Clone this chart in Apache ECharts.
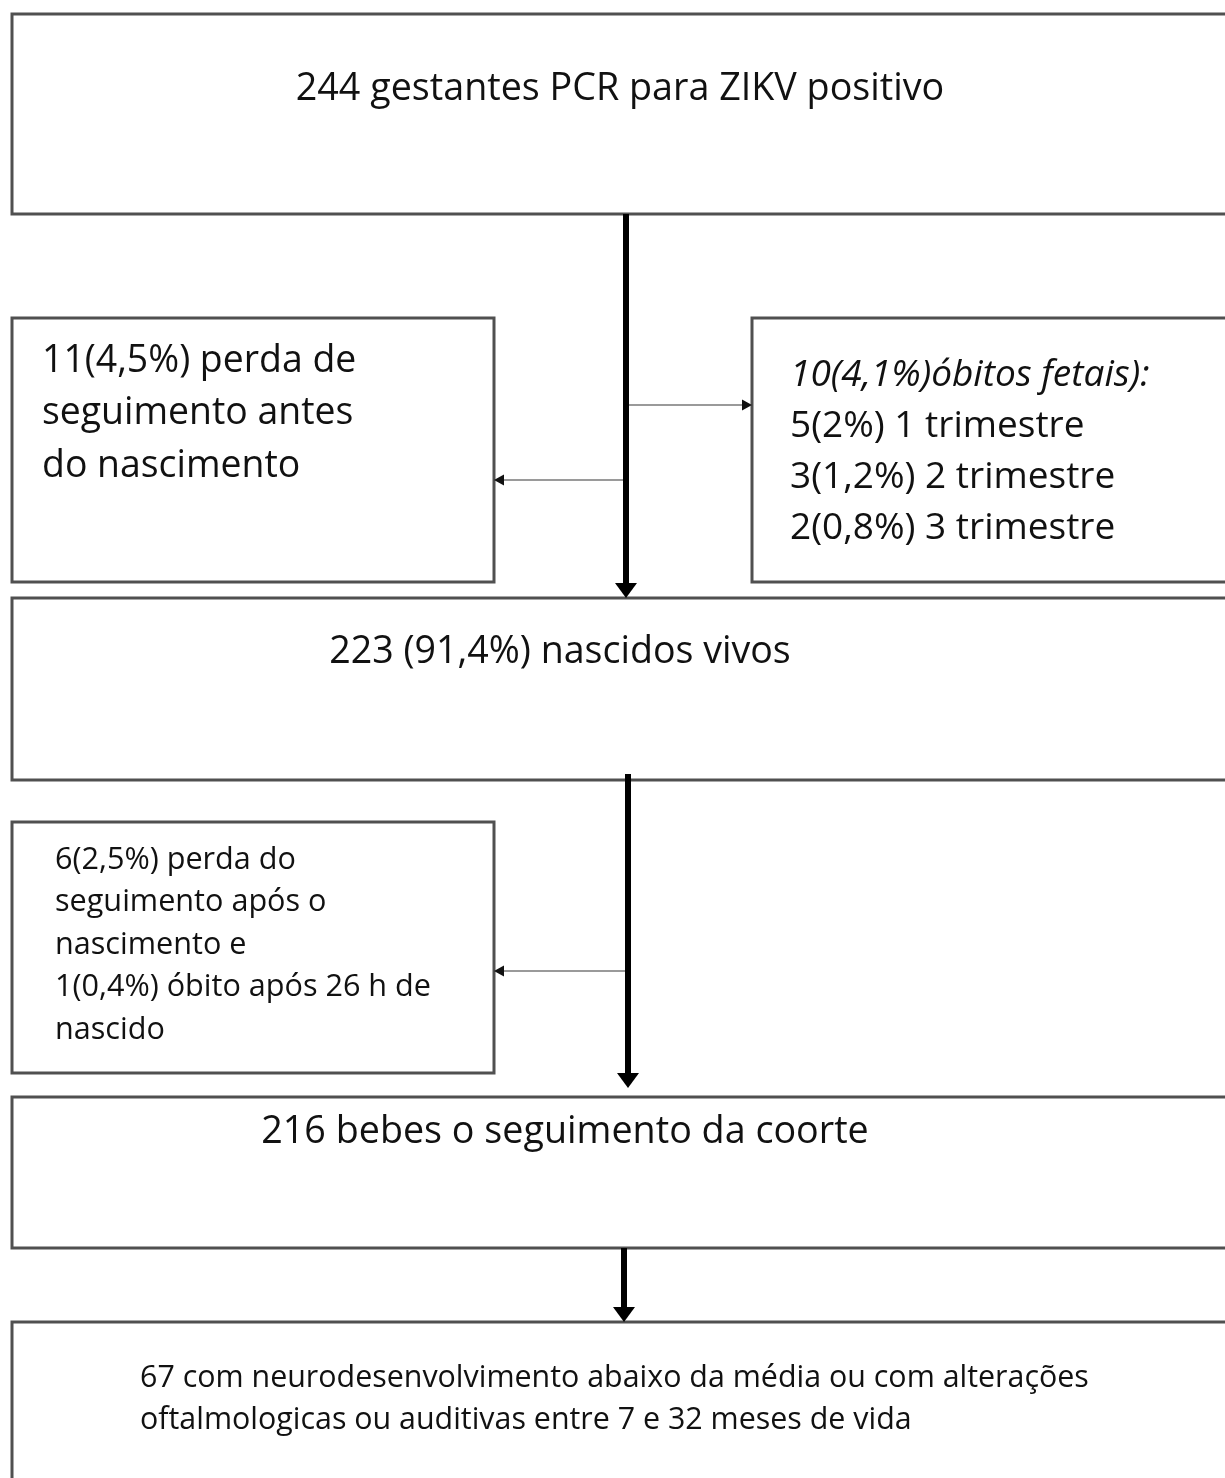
<!DOCTYPE html>
<html><head><meta charset="utf-8">
<script src="https://cdn.jsdelivr.net/npm/echarts@6/dist/echarts.min.js"></script>
<style>html,body{margin:0;padding:0;background:#fff}#c{width:1225px;height:1478px}</style>
</head><body><div id="c"></div>
<script>
// ---- content (texts / counts) ----
const stageCounts = [244, 11, 10, 223, 7, 216, 67];
const boxTexts = [
  ['244 gestantes PCR para ZIKV positivo'],
  ['11(4,5%) perda de', 'seguimento antes', 'do nascimento'],
  ['10(4,1%)óbitos fetais):', '5(2%) 1 trimestre', '3(1,2%) 2 trimestre', '2(0,8%) 3 trimestre'],
  ['223 (91,4%) nascidos vivos'],
  ['6(2,5%) perda do', 'seguimento após o', 'nascimento e', '1(0,4%) óbito após 26 h de', 'nascido'],
  ['216 bebes o seguimento da coorte'],
  ['67 com neurodesenvolvimento abaixo da média ou com alterações', 'oftalmologicas ou auditivas entre 7 e 32 meses de vida']
];
const italicFirstLine = [false, false, true, false, false, false, false];

// ---- layout (axis units; x 0..1225, y 0..1478 top-down) ----
const boxRects = [
  [12, 14, 1240, 214],
  [12, 318, 494, 582],
  [752, 318, 1240, 582],
  [12, 598, 1240, 780],
  [12, 822, 494, 1073],
  [12, 1097, 1240, 1248],
  [12, 1322, 1240, 1500]
];
const textAnchors = [
  {x: 620, y: 89, align: 'center', size: 37.7, lh: 52},
  {x: 42, y: 361, align: 'left', size: 37.4, lh: 52.5},
  {x: 790, y: 375, align: 'left', size: 37, lh: 51},
  {x: 560, y: 652, align: 'center', size: 37.6, lh: 52},
  {x: 55, y: 860, align: 'left', size: 30.6, lh: 42.5},
  {x: 565, y: 1132, align: 'center', size: 37.7, lh: 52},
  {x: 140, y: 1378, align: 'left', size: 30.4, lh: 42}
];
const thickArrows = [
  [626, 214, 626, 598],
  [628, 774, 628, 1088],
  [624, 1248, 624, 1322]
];
const thinArrows = [
  [626, 405, 752, 405],
  [626, 480, 494, 480],
  [626, 971, 494, 971]
];

const FONT = '"Open Sans", "Noto Sans", sans-serif';

const chart = echarts.init(document.getElementById('c'), null, {renderer: 'canvas'});

function boxItem(params, api) {
  const i = params.dataIndex;
  const r = boxRects[i];
  const p0 = api.coord([r[0], r[1]]);
  const p1 = api.coord([r[2], r[3]]);
  const ta = textAnchors[i];
  const children = [{
    type: 'rect',
    shape: {x: p0[0], y: p0[1], width: p1[0] - p0[0], height: p1[1] - p0[1]},
    style: {fill: '#fff', stroke: '#505050', lineWidth: 3}
  }];
  boxTexts[i].forEach((line, k) => {
    const pt = api.coord([ta.x, ta.y + k * ta.lh]);
    children.push({
      type: 'text',
      x: pt[0], y: pt[1],
      style: {
        text: line,
        fontFamily: FONT,
        fontSize: ta.size,
        fontStyle: (k === 0 && italicFirstLine[i]) ? 'italic' : 'normal',
        fill: '#111',
        align: ta.align,
        verticalAlign: 'middle'
      }
    });
  });
  return {type: 'group', children: children};
}

function arrowItem(list, lw, color, headLen, headW, headColor) {
  return function (params, api) {
    const a = list[params.dataIndex];
    const s = api.coord([a[0], a[1]]);
    const e = api.coord([a[2], a[3]]);
    const dx = e[0] - s[0], dy = e[1] - s[1];
    const L = Math.sqrt(dx * dx + dy * dy);
    const ux = dx / L, uy = dy / L;
    const bx = e[0] - ux * headLen, by = e[1] - uy * headLen;
    const nx = -uy, ny = ux;
    return {
      type: 'group',
      children: [
        {type: 'line', shape: {x1: s[0], y1: s[1], x2: bx + ux * 1, y2: by + uy * 1},
         style: {stroke: color, lineWidth: lw}},
        {type: 'polygon', shape: {points: [
          [e[0], e[1]],
          [bx + nx * headW / 2, by + ny * headW / 2],
          [bx - nx * headW / 2, by - ny * headW / 2]
        ]}, style: {fill: headColor}}
      ]
    };
  };
}

chart.setOption({
  animation: false,
  backgroundColor: '#fff',
  grid: {left: 0, right: 0, top: 0, bottom: 0},
  xAxis: {type: 'value', min: 0, max: 1225, show: false},
  yAxis: {type: 'value', min: 0, max: 1478, inverse: true, show: false},
  series: [
    {
      type: 'custom', name: 'boxes', clip: false,
      renderItem: boxItem,
      data: boxRects.map((r, i) => ({name: boxTexts[i][0], value: [r[0], r[1], r[2], r[3], stageCounts[i]]})),
      encode: {x: [0, 2], y: [1, 3]}, z: 1
    },
    {
      type: 'custom', name: 'flow', clip: false,
      renderItem: arrowItem(thickArrows, 6, '#000', 15, 22, '#000'),
      data: thickArrows, encode: {x: [0, 2], y: [1, 3]}, z: 3
    },
    {
      type: 'custom', name: 'exclusions', clip: false,
      renderItem: arrowItem(thinArrows, 2, '#9a9a9a', 10, 11, '#111'),
      data: thinArrows, encode: {x: [0, 2], y: [1, 3]}, z: 2
    }
  ]
});
</script></body></html>
